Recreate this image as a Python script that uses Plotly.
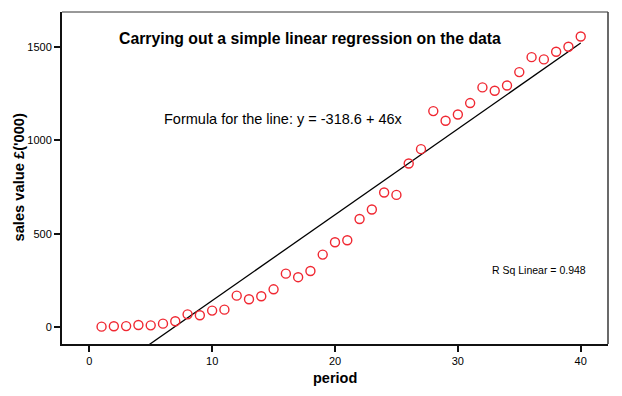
import plotly.graph_objects as go

period = list(range(1, 41))
sales = [2, 4, 5, 11, 9, 18, 31, 68, 63, 88,
         93, 168, 149, 165, 202, 286, 267, 300, 388, 454,
         465, 579, 630, 721, 708, 876, 953, 1157, 1105, 1139,
         1200, 1284, 1266, 1294, 1366, 1446, 1434, 1475, 1502, 1557]
intercept = -318.6
slope = 46.0
r_sq = 0.948
x_ticks = [0, 10, 20, 30, 40]
y_ticks = [0, 500, 1000, 1500]

FONT = "Arial, Liberation Sans, sans-serif"

fit_x = [min(period), max(period)]
fit_y = [intercept + slope * v for v in fit_x]

fig = go.Figure()
fig.add_trace(go.Scatter(x=fit_x, y=fit_y, mode="lines",
                         line=dict(color="black", width=1.3),
                         hoverinfo="skip", showlegend=False))
fig.add_trace(go.Scatter(x=period, y=sales, mode="markers",
                         marker=dict(symbol="circle-open", size=9,
                                     color="rgb(240,40,50)",
                                     line=dict(width=1.4, color="rgb(240,40,50)")),
                         showlegend=False))

# page has an 8px body margin; plot area sits at x 62..608, y 12..344 on the page
fig.update_layout(
    width=606, height=384,
    margin=dict(l=54, r=6, t=4, b=48),
    paper_bgcolor="white", plot_bgcolor="white",
    font=dict(family=FONT, color="black", size=11),
    xaxis=dict(range=[-2.22, 42.22], tickvals=x_ticks, showgrid=False, zeroline=False,
               showline=True, linecolor="#111", linewidth=2,
               ticks="outside", ticklen=6, tickwidth=2, tickcolor="#111",
               tickfont=dict(size=11, family=FONT), automargin=False),
    yaxis=dict(range=[-91, 1688], tickvals=y_ticks, showgrid=False, zeroline=False,
               showline=True, linecolor="#111", linewidth=2,
               ticks="outside", ticklen=6, tickwidth=2, tickcolor="#111",
               tickfont=dict(size=11, family=FONT), automargin=False),
    shapes=[
        dict(type="line", xref="paper", yref="paper", x0=0, x1=1, y0=1, y1=1,
             line=dict(color="#333", width=1)),
        dict(type="line", xref="paper", yref="paper", x0=1, x1=1, y0=0, y1=1,
             line=dict(color="#444", width=1.6)),
    ],
    annotations=[
        dict(text="<b>Carrying out a simple linear regression on the data</b>",
             xref="paper", yref="paper", x=0.455, y=0.9208, showarrow=False,
             xanchor="center", yanchor="middle", font=dict(size=15.8, family=FONT)),
        dict(text=f"Formula for the line: y = {intercept} + {slope:g}x",
             xref="paper", yref="paper", x=0.406, y=0.677, showarrow=False,
             xanchor="center", yanchor="middle", font=dict(size=14.5, family=FONT)),
        dict(text=f"R Sq Linear = {r_sq}",
             xref="paper", yref="paper", x=0.873, y=0.223, showarrow=False,
             xanchor="center", yanchor="middle", font=dict(size=10.5, family=FONT)),
        dict(text="<b>period</b>", xref="paper", yref="paper",
             x=(334.5 - 62) / 546, y=(344 - 378.3) / 332, showarrow=False,
             xanchor="center", yanchor="middle", font=dict(size=14.5, family=FONT)),
        dict(text="<b>sales value £('000)</b>", xref="paper", yref="paper",
             x=(18 - 62) / 546, y=(344 - 177.5) / 332, showarrow=False, textangle=-90,
             xanchor="center", yanchor="middle", font=dict(size=14.7, family=FONT)),
    ],
)

fig.write_html("out.html")
